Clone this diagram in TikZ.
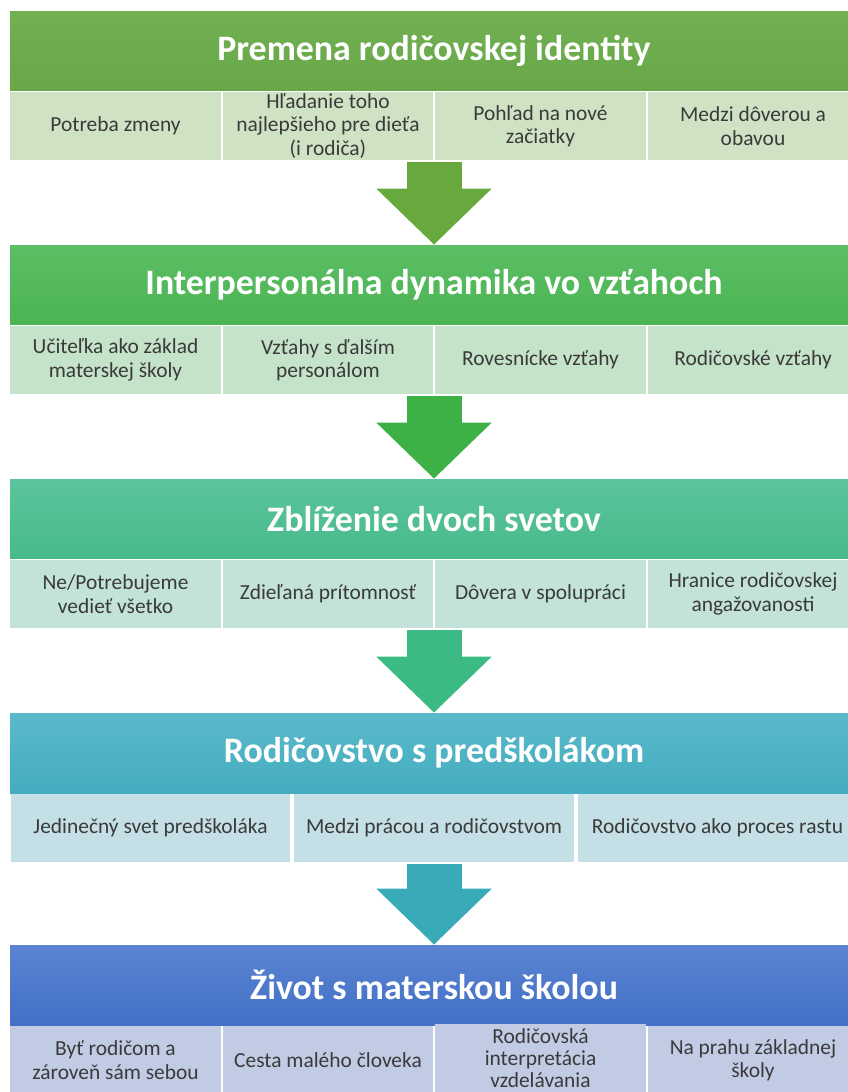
\documentclass[tikz,border=0pt]{standalone}
\usepackage{fontspec}
\setmainfont{Carlito}
\usetikzlibrary{arrows.meta}

\definecolor{hA}{HTML}{72B052}\definecolor{hAb}{HTML}{68A849}
\definecolor{hB}{HTML}{5CBE64}\definecolor{hBb}{HTML}{4BB453}
\definecolor{hC}{HTML}{5CC49C}\definecolor{hCb}{HTML}{47BA8A}
\definecolor{hD}{HTML}{5AB9CA}\definecolor{hDb}{HTML}{45ADC0}
\definecolor{hE}{HTML}{5B83D1}\definecolor{hEb}{HTML}{4270C6}
\definecolor{sA}{HTML}{CFE3C4}
\definecolor{sB}{HTML}{C5E3C8}
\definecolor{sC}{HTML}{C3E3DA}
\definecolor{sD}{HTML}{C4DFE5}
\definecolor{sE}{HTML}{C1CCE4}
\definecolor{aA}{HTML}{67A93C}
\definecolor{aB}{HTML}{3DB145}
\definecolor{aC}{HTML}{3CBA83}
\definecolor{aD}{HTML}{39AAB8}
\definecolor{txt}{HTML}{3A3A3A}

\begin{document}
\begin{tikzpicture}[x=0.02cm, y=-0.02cm,
  head/.style={minimum width=16.96cm, minimum height=1.6cm, inner sep=0pt, text=white,
    font=\fontsize{20.4}{22}\selectfont\bfseries},
  cell/.style={minimum width=4.22cm, minimum height=1.36cm, inner sep=0.5pt, align=center,
    text=txt, font=\fontsize{12.2}{13.3}\selectfont},
  wide/.style={cell, minimum width=5.6cm},
  flow/.style={line width=1.1cm, -{Triangle[width=2.24cm, length=1.12cm]}},
]
\clip (0,0) rectangle (848,1092);

% arrows between the bands
\coordinate (b1) at (434,162);
\coordinate (b2) at (434,396);
\coordinate (b3) at (434,630);
\coordinate (b4) at (434,864);

% band 1
\node[head, top color=hA, bottom color=hAb] (h1) at (434,51) {Premena rodičovskej identity};
\node[cell, fill=sA] (c11) at (115.5,126) {Potreba zmeny};
\node[cell, fill=sA] (c12) at (328,126) {Hľadanie toho\\najlepšieho pre dieťa\\(i rodiča)};
\node[cell, fill=sA] (c13) at (540.5,126) {Pohľad na nové\\začiatky};
\node[cell, fill=sA] (c14) at (753,126) {Medzi dôverou a\\obavou};

% band 2
\node[head, top color=hB, bottom color=hBb] (h2) at (434,285) {Interpersonálna dynamika vo vzťahoch};
\node[cell, fill=sB] (c21) at (115.5,360) {Učiteľka ako základ\\materskej školy};
\node[cell, fill=sB] (c22) at (328,360) {Vzťahy s ďalším\\personálom};
\node[cell, fill=sB] (c23) at (540.5,360) {Rovesnícke vzťahy};
\node[cell, fill=sB] (c24) at (753,360) {Rodičovské vzťahy};

% band 3
\node[head, top color=hC, bottom color=hCb] (h3) at (434,519) {Zblíženie dvoch svetov};
\node[cell, fill=sC] (c31) at (115.5,594) {Ne/Potrebujeme\\vedieť všetko};
\node[cell, fill=sC] (c32) at (328,594) {Zdieľaná prítomnosť};
\node[cell, fill=sC] (c33) at (540.5,594) {Dôvera v spolupráci};
\node[cell, fill=sC] (c34) at (753,594) {Hranice rodičovskej\\angažovanosti};

% band 4
\node[head, top color=hD, bottom color=hDb] (h4) at (434,753) {Rodičovstvo s predškolákom};
\node[wide, fill=sD] (c41) at (150.5,828) {Jedinečný svet predškoláka};
\node[wide, fill=sD] (c42) at (434,828) {Medzi prácou a rodičovstvom};
\node[wide, fill=sD] (c43) at (717.5,828) {Rodičovstvo ako proces rastu};

% band 5 (3rd cell set tighter so it fits the page)
\node[head, top color=hE, bottom color=hEb] (h5) at (434,985) {Život s materskou školou};
\node[cell, fill=sE] (c51) at (115.5,1060) {Byť rodičom a\\zároveň sám sebou};
\node[cell, fill=sE] (c52) at (328,1060) {Cesta malého človeka};
\node[cell, fill=sE, font=\fontsize{12.2}{12.6}\selectfont] (c53) at (540.5,1058)
  {Rodičovská\\interpretácia\\vzdelávania};
\node[cell, fill=sE] (c54) at (753,1060) {Na prahu základnej\\školy};

\draw[flow, draw=aA, fill=aA] (b1) -- (h2.north);
\draw[flow, draw=aB, fill=aB] (b2) -- (h3.north);
\draw[flow, draw=aC, fill=aC] (b3) -- (h4.north);
\draw[flow, draw=aD, fill=aD] (b4) -- (h5.north);

\end{tikzpicture}
\end{document}
